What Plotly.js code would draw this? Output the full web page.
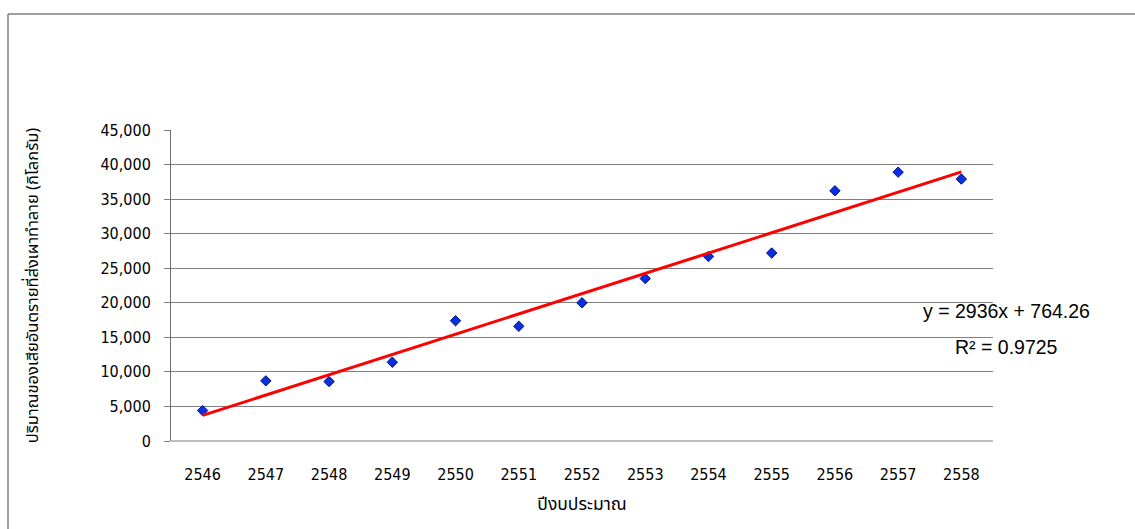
<!DOCTYPE html>
<html>
<head>
<meta charset="utf-8">
<script src="https://cdn.plot.ly/plotly-3.0.1.min.js"></script>
<style>
html,body{margin:0;padding:0;background:#fff;}
#chart{width:1135px;height:529px;}
</style>
</head>
<body>
<div id="chart"></div>
<script>
// ---- data ----
const years = ['2546','2547','2548','2549','2550','2551','2552','2553','2554','2555','2556','2557','2558'];
const wasteKg = [4400, 8700, 8600, 11400, 17400, 16600, 20000, 23500, 26700, 27200, 36200, 38900, 37900];
const trendSlope = 2936;
const trendIntercept = 764.26;
const rSquared = 0.9725;
const yTicks = [0, 5000, 10000, 15000, 20000, 25000, 30000, 35000, 40000, 45000];
const yTitle = 'ปริมาณของเสียอันตรายที่ส่งเผาทำลาย (กิโลกรัม)';
const xTitle = 'ปีงบประมาณ';

// trendline endpoints from the displayed equation (x = 1..n)
const n = years.length;
const trendX = [years[0], years[n - 1]];
const trendY = [trendSlope * 1 + trendIntercept, trendSlope * n + trendIntercept];

const thaiFont = 'Tahoma, "Noto Sans Thai", Loma, Garuda, "DejaVu Sans", sans-serif';
const numFont = '"DejaVu Sans Condensed", "DejaVu Sans", sans-serif';

const L = 171, R = 142, T = 130, B = 88;
const W = 1135, H = 529;
const pw = W - L - R, ph = H - T - B;
const px = v => (v - L) / pw;
const py = v => (H - B - v) / ph;

const traces = [
  {
    x: years, y: wasteKg, type: 'scatter', mode: 'markers',
    marker: {symbol: 'diamond', size: 8, color: '#0b2fe0', line: {color: '#00147a', width: 1}},
    hoverinfo: 'x+y', showlegend: false
  },
  {
    x: trendX, y: trendY, type: 'scatter', mode: 'lines',
    line: {color: '#ff0000', width: 3},
    hoverinfo: 'skip', showlegend: false
  }
];

const layout = {
  width: W, height: H,
  margin: {l: L, r: R, t: T, b: B, pad: 0},
  paper_bgcolor: '#ffffff', plot_bgcolor: '#ffffff',
  showlegend: false,
  xaxis: {
    type: 'category', categoryorder: 'array', categoryarray: years,
    range: [-0.5, n - 0.5],
    showgrid: false, zeroline: false,
    showline: false,
    ticks: '', ticklabelstandoff: 22,
    tickfont: {family: numFont, size: 16, color: '#000'},
    title: {text: xTitle, font: {family: thaiFont, size: 17.5, color: '#000'}, standoff: 14}
  },
  yaxis: {
    range: [0, 45000], tickvals: yTicks, tickformat: ',d',
    showgrid: true, gridcolor: '#7f7f7f', gridwidth: 1,
    zeroline: false,
    showline: true, linecolor: '#6f6f6f', linewidth: 1,
    ticks: 'outside', ticklen: 6, tickcolor: '#7f7f7f', tickwidth: 1,
    ticklabelstandoff: 10,
    tickfont: {family: numFont, size: 16, color: '#000'},
    title: {text: yTitle, font: {family: thaiFont, size: 16.5, color: '#000'}, standoff: 57}
  },
  shapes: [
    {type: 'line', xref: 'paper', yref: 'paper', x0: px(8), x1: px(W), y0: py(14), y1: py(14), line: {color: '#808080', width: 1.5}},
    {type: 'line', xref: 'paper', yref: 'paper', x0: px(8), x1: px(8), y0: py(14), y1: py(H), line: {color: '#808080', width: 1.5}},
    {type: 'line', xref: 'paper', yref: 'paper', x0: px(L), x1: 1, y0: 0, y1: 0, line: {color: '#7f7f7f', width: 1}}
  ],
  annotations: [
    {xref: 'paper', yref: 'paper', x: px(1006), y: py(311), xanchor: 'center', yanchor: 'middle', showarrow: false,
     text: 'y = ' + trendSlope + 'x + ' + trendIntercept, font: {family: 'Arial, "Liberation Sans", sans-serif', size: 19.5, color: '#000'}},
    {xref: 'paper', yref: 'paper', x: px(1006), y: py(347), xanchor: 'center', yanchor: 'middle', showarrow: false,
     text: 'R² = ' + rSquared, font: {family: 'Arial, "Liberation Sans", sans-serif', size: 19.5, color: '#000'}}
  ]
};

Plotly.newPlot('chart', traces, layout, {displayModeBar: false, staticPlot: true});
</script>
</body>
</html>
